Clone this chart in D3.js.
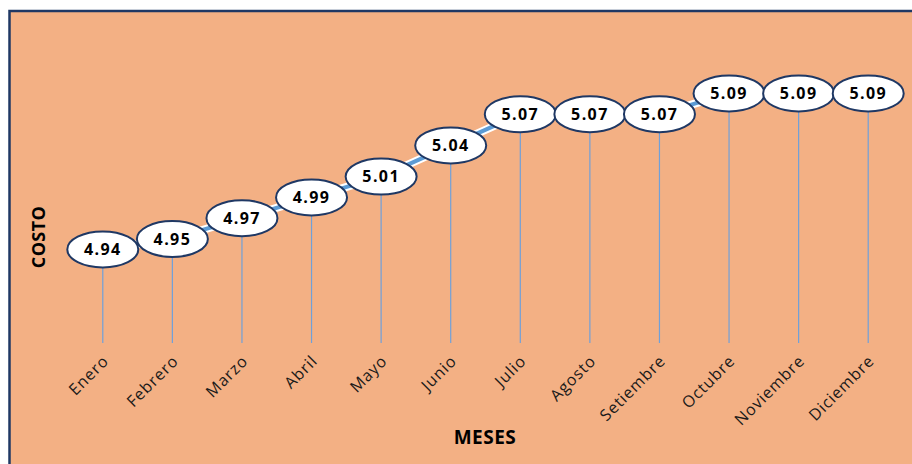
<!DOCTYPE html>
<html>
<head>
<meta charset="utf-8">
<script src="https://cdn.jsdelivr.net/npm/d3@7/dist/d3.min.js"></script>
<style>
  html, body { margin: 0; padding: 0; background: #ffffff; }
  svg { display: block; }
</style>
</head>
<body>
<svg id="chart" width="912" height="464"></svg>
<script>
// Monthly cost values
const months = ["Enero", "Febrero", "Marzo", "Abril", "Mayo", "Junio",
                "Julio", "Agosto", "Setiembre", "Octubre", "Noviembre", "Diciembre"];
const costs = [4.94, 4.95, 4.97, 4.99, 5.01, 5.04, 5.07, 5.07, 5.07, 5.09, 5.09, 5.09];
const yDomain = [4.85, 5.10];

const svg = d3.select("#chart");

// Chart area background with dark border
svg.append("rect")
  .attr("x", 9.5).attr("y", 11)
  .attr("width", 920).attr("height", 470)
  .attr("fill", "#F3B084")
  .attr("stroke", "#1F3864")
  .attr("stroke-width", 2.5);

const x = d3.scaleBand().domain(months).range([68, 903]);
const y = d3.scaleLinear().domain(yDomain).range([343, 83]);
const cx = m => x(m) + x.bandwidth() / 2;

const data = months.map((m, i) => ({ m, v: costs[i] }));

// Drop lines from each point down to the baseline
svg.append("g").selectAll("line")
  .data(data).join("line")
  .attr("x1", d => cx(d.m)).attr("x2", d => cx(d.m))
  .attr("y1", d => y(d.v)).attr("y2", y(yDomain[0]))
  .attr("stroke", "#6FA0DA")
  .attr("stroke-width", 1.2);

// Connecting line with a soft white halo
const line = d3.line().x(d => cx(d.m)).y(d => y(d.v));
svg.append("path").datum(data)
  .attr("d", line)
  .attr("fill", "none")
  .attr("stroke", "#ffffff")
  .attr("stroke-width", 8)
  .attr("stroke-linejoin", "round");
svg.append("path").datum(data)
  .attr("d", line)
  .attr("fill", "none")
  .attr("stroke", "#5B9BD5")
  .attr("stroke-width", 4)
  .attr("stroke-linejoin", "round");

// Value bubbles
const pts = svg.append("g").selectAll("g")
  .data(data).join("g")
  .attr("transform", d => `translate(${cx(d.m)},${y(d.v)})`);
pts.append("ellipse")
  .attr("rx", 35.5).attr("ry", 18)
  .attr("fill", "#ffffff")
  .attr("stroke", "#1F3864")
  .attr("stroke-width", 2);
pts.append("text")
  .attr("text-anchor", "middle")
  .attr("dy", "0.36em")
  .attr("font-family", "'Open Sans', sans-serif")
  .attr("font-weight", "bold")
  .attr("font-size", 16)
  .attr("letter-spacing", 1.4)
  .attr("fill", "#000000")
  .text(d => d3.format(".2f")(d.v));

// Month labels, rotated
const xAxis = d3.axisBottom(x).tickSize(0).tickPadding(0);
const gx = svg.append("g")
  .attr("transform", `translate(0,${y(yDomain[0])})`)
  .call(xAxis);
gx.select(".domain").remove();
gx.selectAll("text")
  .attr("font-family", "'Open Sans', sans-serif")
  .attr("font-size", 16)
  .attr("letter-spacing", 0.9)
  .attr("fill", "#1a1a1a")
  .attr("text-anchor", "end")
  .attr("dy", null)
  .attr("y", 0)
  .attr("transform", "translate(7,19) rotate(-45)");

// Axis titles
svg.append("text")
  .attr("x", 485).attr("y", 444)
  .attr("text-anchor", "middle")
  .attr("font-family", "'Open Sans', sans-serif")
  .attr("font-weight", "bold")
  .attr("font-size", 19)
  .attr("letter-spacing", 0.5)
  .attr("fill", "#000000")
  .text("MESES");

svg.append("text")
  .attr("transform", "translate(45,237) rotate(-90)")
  .attr("text-anchor", "middle")
  .attr("font-family", "'Open Sans', sans-serif")
  .attr("font-weight", "bold")
  .attr("font-size", 18)
  .attr("letter-spacing", 0.4)
  .attr("fill", "#000000")
  .text("COSTO");
</script>
</body>
</html>
